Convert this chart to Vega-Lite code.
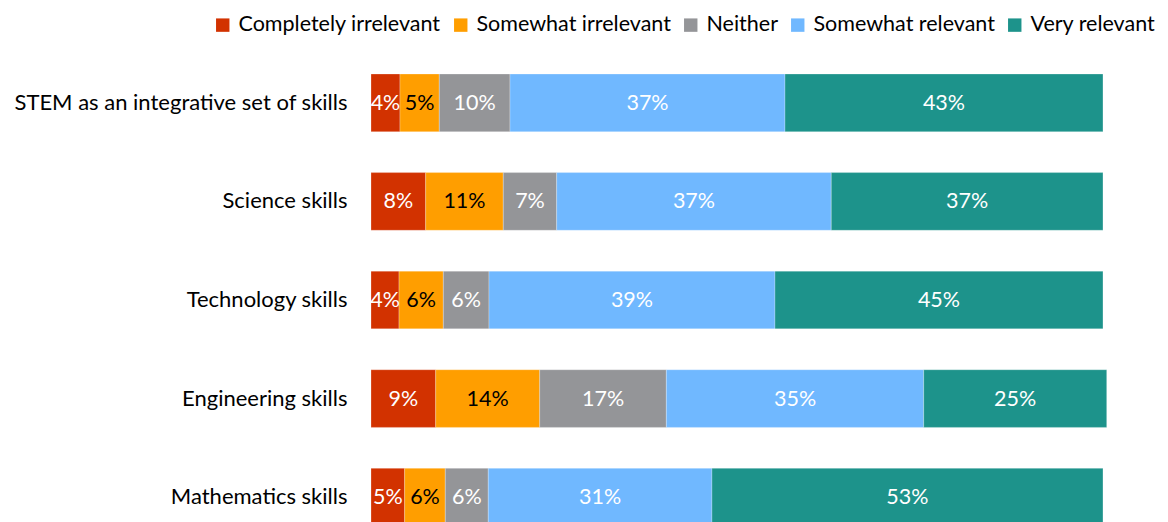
{
  "$schema": "https://vega.github.io/schema/vega-lite/v6.json",
  "autosize": "none",
  "width": 736,
  "height": 448,
  "padding": {"left": 371, "top": 74, "right": 61, "bottom": 0},
  "background": "white",
  "config": {"view": {"stroke": null}, "font": "Lato"},
  "data": {"values": [
    {"item": "STEM as an integrative set of skills", "cat": "Completely irrelevant", "k": 1, "value": 3.96, "label": "4%"},
    {"item": "STEM as an integrative set of skills", "cat": "Somewhat irrelevant", "k": 2, "value": 5.37, "label": "5%"},
    {"item": "STEM as an integrative set of skills", "cat": "Neither", "k": 3, "value": 9.66, "label": "10%"},
    {"item": "STEM as an integrative set of skills", "cat": "Somewhat relevant", "k": 4, "value": 37.57, "label": "37%"},
    {"item": "STEM as an integrative set of skills", "cat": "Very relevant", "k": 5, "value": 43.44, "label": "43%"},
    {"item": "Science skills", "cat": "Completely irrelevant", "k": 1, "value": 7.47, "label": "8%"},
    {"item": "Science skills", "cat": "Somewhat irrelevant", "k": 2, "value": 10.6, "label": "11%"},
    {"item": "Science skills", "cat": "Neither", "k": 3, "value": 7.3, "label": "7%"},
    {"item": "Science skills", "cat": "Somewhat relevant", "k": 4, "value": 37.51, "label": "37%"},
    {"item": "Science skills", "cat": "Very relevant", "k": 5, "value": 37.12, "label": "37%"},
    {"item": "Technology skills", "cat": "Completely irrelevant", "k": 1, "value": 3.83, "label": "4%"},
    {"item": "Technology skills", "cat": "Somewhat irrelevant", "k": 2, "value": 6.05, "label": "6%"},
    {"item": "Technology skills", "cat": "Neither", "k": 3, "value": 6.24, "label": "6%"},
    {"item": "Technology skills", "cat": "Somewhat relevant", "k": 4, "value": 39.07, "label": "39%"},
    {"item": "Technology skills", "cat": "Very relevant", "k": 5, "value": 44.81, "label": "45%"},
    {"item": "Engineering skills", "cat": "Completely irrelevant", "k": 1, "value": 8.84, "label": "9%"},
    {"item": "Engineering skills", "cat": "Somewhat irrelevant", "k": 2, "value": 14.21, "label": "14%"},
    {"item": "Engineering skills", "cat": "Neither", "k": 3, "value": 17.3, "label": "17%"},
    {"item": "Engineering skills", "cat": "Somewhat relevant", "k": 4, "value": 35.16, "label": "35%"},
    {"item": "Engineering skills", "cat": "Very relevant", "k": 5, "value": 25.0, "label": "25%"},
    {"item": "Mathematics skills", "cat": "Completely irrelevant", "k": 1, "value": 4.6, "label": "5%"},
    {"item": "Mathematics skills", "cat": "Somewhat irrelevant", "k": 2, "value": 5.55, "label": "6%"},
    {"item": "Mathematics skills", "cat": "Neither", "k": 3, "value": 5.87, "label": "6%"},
    {"item": "Mathematics skills", "cat": "Somewhat relevant", "k": 4, "value": 30.56, "label": "31%"},
    {"item": "Mathematics skills", "cat": "Very relevant", "k": 5, "value": 53.42, "label": "53%"}
  ]},
  "transform": [
    {"stack": "value", "groupby": ["item"], "sort": [{"field": "k", "order": "ascending"}], "as": ["v0", "v1"]},
    {"calculate": "(datum.v0 + datum.v1) / 2", "as": "mid"}
  ],
  "encoding": {
    "y": {
      "field": "item", "type": "nominal",
      "sort": ["STEM as an integrative set of skills", "Science skills", "Technology skills", "Engineering skills", "Mathematics skills"],
      "scale": {"range": [0, 452], "paddingInner": 0.415, "paddingOuter": 0},
      "axis": {"title": null, "domain": false, "ticks": false, "labelPadding": 24, "labelFontSize": 22, "labelColor": "#000000", "labelFont": "Lato", "labelLimit": 400}
    }
  },
  "layer": [
    {
      "mark": {"type": "bar", "stroke": "white", "strokeWidth": 0.5, "strokeOpacity": 0.5},
      "encoding": {
        "x": {"field": "v0", "type": "quantitative", "scale": {"domain": [0, 100.55], "nice": false, "zero": true}, "axis": null},
        "x2": {"field": "v1"},
        "color": {
          "field": "cat", "type": "nominal",
          "scale": {
            "domain": ["Completely irrelevant", "Somewhat irrelevant", "Neither", "Somewhat relevant", "Very relevant"],
            "range": ["#D23200", "#FF9E00", "#949598", "#70B8FF", "#1D938B"]
          },
          "legend": {
            "title": null, "orient": "none", "direction": "horizontal", "columns": 5,
            "legendX": -159, "legendY": -60,
            "symbolType": "square", "symbolSize": 180, "symbolStrokeWidth": 0,
            "labelFontSize": 21.5, "labelFont": "Lato", "labelColor": "#000000",
            "labelOffset": 5, "columnPadding": 9, "labelLimit": 300
          }
        }
      }
    },
    {
      "mark": {"type": "text", "fontSize": 21.5, "font": "Lato", "dy": 1},
      "encoding": {
        "x": {"field": "mid", "type": "quantitative"},
        "text": {"field": "label"},
        "color": {"condition": {"test": "datum.cat === 'Somewhat irrelevant'", "value": "#000000"}, "value": "#FFFFFF"}
      }
    }
  ]
}
